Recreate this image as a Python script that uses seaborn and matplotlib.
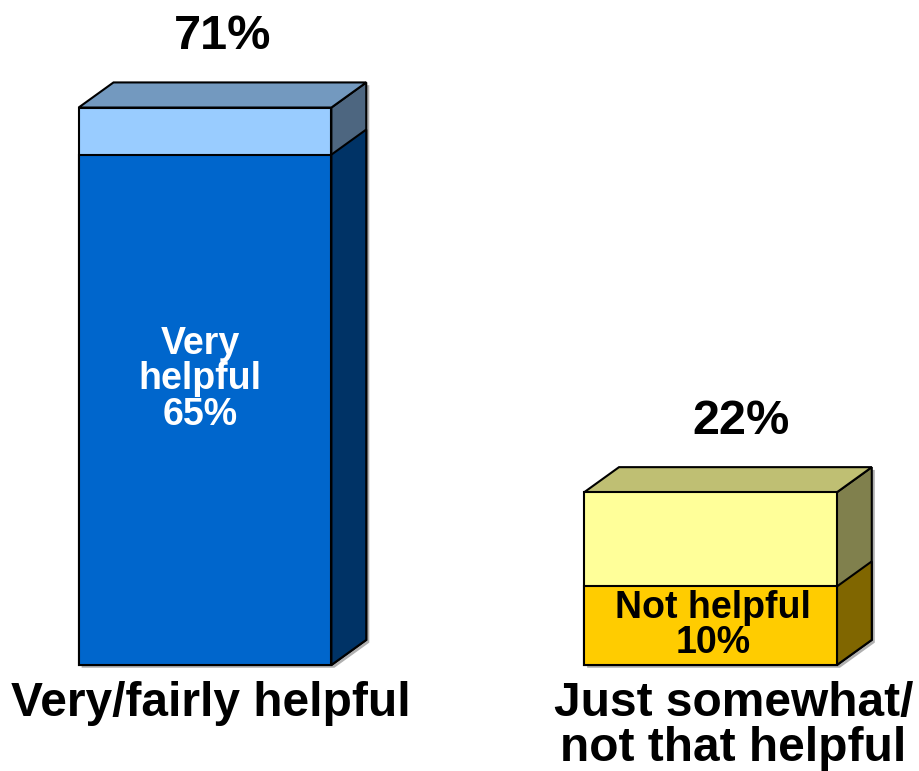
import matplotlib

matplotlib.use("Agg")
import matplotlib.pyplot as plt
import pandas as pd
import seaborn as sns
from matplotlib.patches import Polygon

# ---- data ----
categories = ["Very/fairly helpful", "Just somewhat/\nnot that helpful"]
totals = [71, 22]
bottoms = [65, 10]
total_labels = ["71%", "22%"]
inner_labels = ["Very\nhelpful\n65%", "Not helpful\n10%"]

# front / side / top face colours for each segment
top_front = ["#99CCFF", "#FFFF99"]
top_side = ["#4D6680", "#80804D"]
top_roof = ["#7399BF", "#BFBF73"]
bot_front = ["#0066CC", "#FFCC00"]
bot_side = ["#003366", "#806600"]
inner_colors = ["white", "black"]

sns.set_theme(style="white")
plt.rcParams["font.family"] = ["Liberation Sans", "DejaVu Sans"]
plt.rcParams["font.weight"] = "bold"

df = pd.DataFrame({"cat": categories, "total": totals, "bottom": bottoms})

fig = plt.figure(figsize=(9.2, 7.71), dpi=100)
ax = fig.add_axes([0, 0, 1, 1])

sns.barplot(data=df, x="cat", y="total", hue="cat", palette=top_front,
            saturation=1, width=0.5, edgecolor="black", linewidth=1.5,
            legend=False, ax=ax, zorder=3)
sns.barplot(data=df, x="cat", y="bottom", hue="cat", palette=bot_front,
            saturation=1, width=0.5, edgecolor="black", linewidth=1.5,
            legend=False, ax=ax, zorder=3)

# axes span the whole figure; map data so bars land where the reference has them
ax.set_xlim(-0.4055, 1.4144)
ax.set_ylim(-13.5, 84.7)
ax.axis("off")

dx, dy = 0.069, 3.2  # depth of the fake 3D extrusion, in data units
sx, sy = 0.006, -0.35  # small drop shadow

patches = list(ax.patches)
n = len(categories)
tot_patches, bot_patches = patches[:n], patches[n:]


def extrude(p, side_color, roof_color=None):
    x0 = p.get_x()
    x1 = x0 + p.get_width()
    y0 = p.get_y()
    y1 = y0 + p.get_height()
    side = [(x1, y0), (x1 + dx, y0 + dy), (x1 + dx, y1 + dy), (x1, y1)]
    ax.add_patch(Polygon(side, closed=True, facecolor=side_color,
                         edgecolor="black", linewidth=1.5, zorder=2))
    if roof_color is not None:
        roof = [(x0, y1), (x0 + dx, y1 + dy), (x1 + dx, y1 + dy), (x1, y1)]
        ax.add_patch(Polygon(roof, closed=True, facecolor=roof_color,
                             edgecolor="black", linewidth=1.5, zorder=2))
        # shadow outline of the whole box
        shadow = [(x0 + sx, y0 + sy), (x1 + sx, y0 + sy),
                  (x1 + dx + sx, y0 + dy + sy), (x1 + dx + sx, y1 + dy + sy),
                  (x0 + dx + sx, y1 + dy + sy), (x0 + sx, y1 + sy)]
        ax.add_patch(Polygon(shadow, closed=True, facecolor="#B0B0B0",
                             edgecolor="none", zorder=1))


for i in range(n):
    extrude(tot_patches[i], top_side[i], top_roof[i])
    p = bot_patches[i]
    side = [(p.get_x() + p.get_width(), 0),
            (p.get_x() + p.get_width() + dx, dy),
            (p.get_x() + p.get_width() + dx, bottoms[i] + dy),
            (p.get_x() + p.get_width(), bottoms[i])]
    ax.add_patch(Polygon(side, closed=True, facecolor=bot_side[i],
                         edgecolor="black", linewidth=1.5, zorder=2.5))

# labels
total_dx = [0.035, 0.06]
for i in range(n):
    ax.text(i + total_dx[i], totals[i] + dy + 3.0, total_labels[i],
            ha="center", va="bottom", fontsize=35, fontweight="bold",
            color="black")

inner_y = [36.4, 5.0]
inner_x = [-0.01, 0.005]
for i in range(n):
    ax.text(i + inner_x[i], inner_y[i], inner_labels[i], ha="center",
            va="center", fontsize=27, fontweight="bold",
            color=inner_colors[i], linespacing=0.98, zorder=4)

cat_x = [0.012, 1.045]
for i in range(n):
    ax.text(cat_x[i], -2.0, categories[i], ha="center", va="top",
            fontsize=34.5, fontweight="bold", color="black", linespacing=1.0)

fig.savefig("out.png", dpi=100)
plt.close(fig)
